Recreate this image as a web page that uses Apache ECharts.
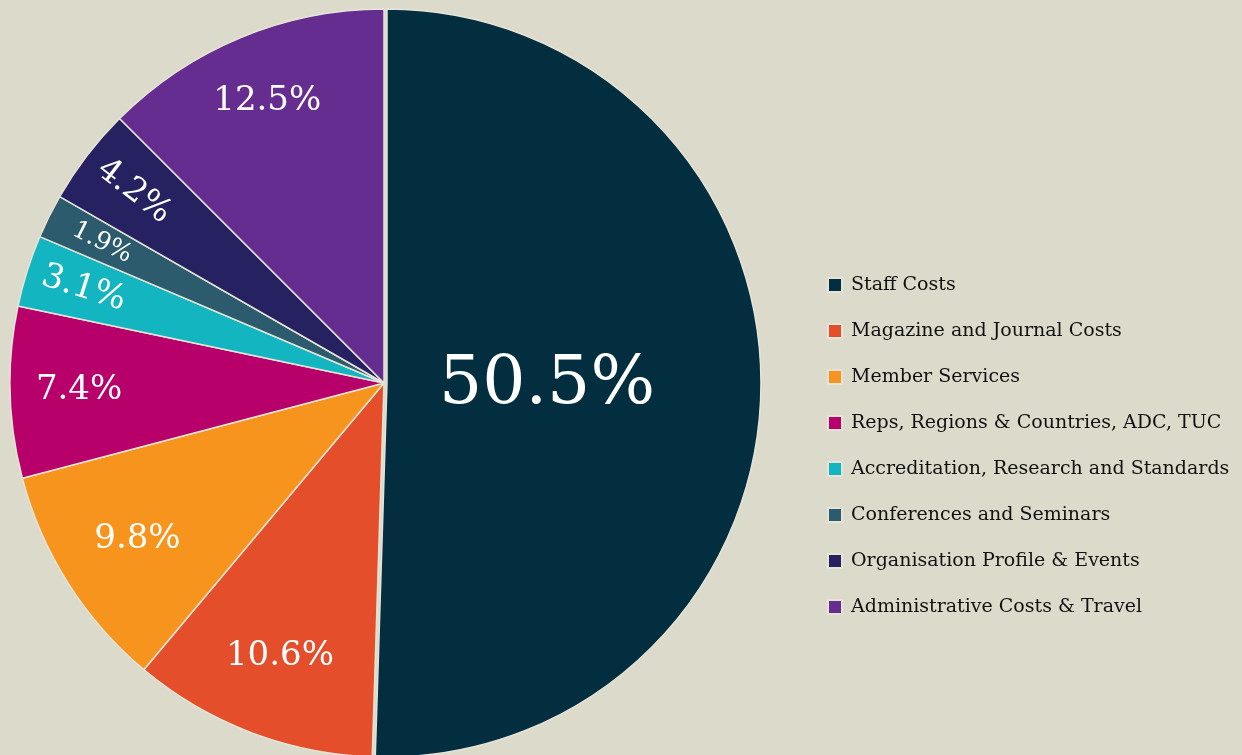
<!DOCTYPE html>
<html>
<head>
<meta charset="utf-8">
<script src="https://cdn.jsdelivr.net/npm/echarts@6/dist/echarts.min.js"></script>
<style>
html,body{margin:0;padding:0;background:#dcdacb;}
#chart{width:1242px;height:755px;}
</style>
</head>
<body>
<div id="chart"></div>
<script>
const categories = [
  'Staff Costs',
  'Magazine and Journal Costs',
  'Member Services',
  'Reps, Regions & Countries, ADC, TUC',
  'Accreditation, Research and Standards',
  'Conferences and Seminars',
  'Organisation Profile & Events',
  'Administrative Costs & Travel'
];
const values = [50.5, 10.6, 9.8, 7.4, 3.1, 1.9, 4.2, 12.5];
const colors = ['#022e40', '#e54e2b', '#f7941d', '#b8006b', '#13b5c1', '#2d5b6e', '#262262', '#662d91'];

const FONT = 'DejaVu Serif';
const center = [384, 383];
const R = 374;

// label groups: which ring each slice's label sits in
const centreGroup = [0];
const lowerGroup = [1, 2];
const outerGroup = [3, 7];
const rimGroup = [4, 5, 6];
const labelSize = {0: 68, 1: 34, 2: 34, 3: 34, 4: 34, 5: 25, 6: 33, 7: 34};
const radialRot = [4, 5, 6];

function mainData() {
  return categories.map((n, i) => ({
    name: n, value: values[i], selected: i === 0,
    itemStyle: {color: colors[i]}
  }));
}
function labelData(group) {
  return categories.map((n, i) => ({
    name: n, value: values[i],
    label: group.includes(i) ? {
      show: true, fontSize: labelSize[i],
      rotate: radialRot.includes(i) ? 'radial' : 0
    } : {show: false}
  }));
}
function labelSeries(group, radius) {
  return {
    type: 'pie', center: center, radius: radius, startAngle: 90,
    silent: true, legendHoverLink: false,
    itemStyle: {color: 'rgba(0,0,0,0)', borderWidth: 0},
    label: {position: 'inside', color: '#ffffff', fontFamily: FONT, fontWeight: 'normal',
      formatter: p => p.value.toFixed(1) + '%'},
    labelLine: {show: false},
    emphasis: {disabled: true},
    data: labelData(group)
  };
}

const chart = echarts.init(document.getElementById('chart'), null, {renderer: 'canvas'});
chart.setOption({
  backgroundColor: '#dcdacb',
  animation: false,
  legend: {
    orient: 'vertical', left: 827, top: 275, padding: 0,
    data: categories,
    icon: 'rect', itemWidth: 14, itemHeight: 14, itemGap: 26,
    textStyle: {fontFamily: FONT, fontSize: 19, color: '#111111', lineHeight: 20, padding: [0, 0, 0, 4]},
    selectedMode: false
  },
  series: [
    {
      type: 'pie', center: center, radius: [0, R], startAngle: 90,
      selectedMode: 'single', selectedOffset: 3,
      itemStyle: {borderColor: '#e6e4d7', borderWidth: 1.5},
      label: {show: false}, labelLine: {show: false},
      emphasis: {disabled: true},
      data: mainData()
    },
    labelSeries(centreGroup, [0, 320]),
    labelSeries(lowerGroup, [204, R]),
    labelSeries(outerGroup, [230, R]),
    labelSeries(rimGroup, [250, R])
  ]
});
</script>
</body>
</html>
